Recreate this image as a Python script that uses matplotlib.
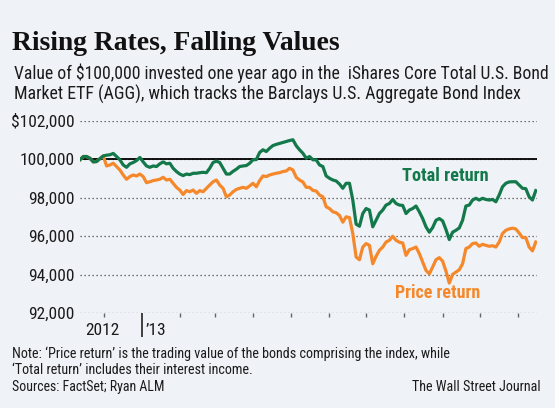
import numpy as np
import pandas as pd
import matplotlib
matplotlib.use("Agg")
import matplotlib.pyplot as plt
import matplotlib.dates as mdates
from matplotlib.ticker import FuncFormatter, FixedLocator, NullFormatter

start_date = "2012-11-12"
end_date = "2013-11-15"

total_return = [
    99970, 100140, 100140, 100050, 99860, 99880, 100030, 100170, 100210, 100230,
    100300, 100140, 99970, 99700, 99580, 99760, 99830, 99930, 100090, 99860,
    99650, 99580, 99650, 99620, 99760, 99860, 99760, 99790, 99530, 99360,
    99230, 99150, 99230, 99200, 99270, 99270, 99300, 99320, 99300, 99530,
    99830, 99900, 99830, 99530, 99230, 99230, 99370, 99480, 99620, 99650,
    99670, 99790, 99970, 99980, 100350, 100490, 100400, 100570, 100710, 100770,
    100820,
    100870, 100920, 100970, 101010, 100700, 100490, 100310, 100050, 100140, 99970,
    99970, 99700, 99620, 99130, 99010, 98920, 98870, 98710, 98490, 98750,
    98750, 97880, 96630, 96520, 97180, 97440, 97360, 96490, 96830, 97180,
    97360, 97620, 97700, 97910, 97700, 97620, 97600, 97180, 97360, 97440,
    97570, 97270, 96920, 96490, 96210, 96450, 96830, 96920, 96800, 96350,
    95830, 96210, 96310, 96430, 96830, 97570, 97620, 97880, 97970, 97880,
    97970, 97910, 97880, 97910, 97790, 98140, 98570, 98750, 98820, 98830,
    98830, 98660, 98490, 98470, 98050, 97880, 98370,
]

price_return = [
    99970, 100140, 100140, 100050, 99860, 99880, 100030, 100170, 99650, 99700,
    99790, 99620, 99440, 99180, 98960, 99100, 99180, 99130, 99230, 99100,
    98780, 98830, 98890, 98920, 98960, 99060, 98920, 98960, 98750, 98540,
    98400, 98170, 98370, 98310, 98400, 98230, 98370, 98310, 98490, 98660,
    98830, 98920, 98660, 98490, 98050, 98140, 98310, 98430, 98490, 98540,
    98490, 98610, 98750, 98570, 98890, 99130, 99100, 99180, 99230, 99270,
    99300,
    99360, 99390, 99530, 99440, 99060, 98920, 98820, 98540, 98540, 98380,
    98350, 98140, 98050, 97530, 97440, 97270, 97220, 97080, 96730, 97010,
    96970, 96140, 94920, 94780, 95440, 95620, 95530, 94570, 94960, 95270,
    95440, 95700, 95790, 96000, 95790, 95690, 95650, 95010, 95300, 95360,
    95440, 95100, 94660, 94230, 94050, 94400, 94780, 94890, 94710, 94190,
    93570, 94020, 94140, 94260, 94570, 95360, 95440, 95620, 95650, 95480,
    95580, 95530, 95480, 95510, 95440, 95700, 96140, 96310, 96380, 96420,
    96380, 96170, 95930, 95930, 95440, 95240, 95700,
]

y_ticks = [92000, 94000, 96000, 98000, 100000, 102000]
year_tick = "2013-01-01"

dates = pd.date_range(start_date, end_date, periods=len(total_return))

BG = "#eff2f7"
GREEN = "#13784a"
ORANGE = "#f5882a"
TXT = "#1b1b1b"
SANS = ["Roboto Condensed", "Roboto", "DejaVu Sans"]

fig = plt.figure(figsize=(5.55, 4.08), dpi=100, facecolor=BG)
ax = fig.add_axes([0.1441, 0.2321, 0.8235, 0.4721], facecolor=BG)
renderer = fig.canvas.get_renderer()


def fit(t, width_px):
    # scale the font so the text spans the same width as in the original
    w = t.get_window_extent(renderer).width
    t.set_fontsize(t.get_fontsize() * width_px / w)
    return t


ax.set_yticks(y_ticks)
ax.set_ylim(92000, 102000)
ax.set_xlim(dates[0], dates[-1] + pd.Timedelta(days=1))
ax.yaxis.grid(True, linestyle=(0, (1, 2.2)), color="#444444", lw=0.9)
ax.set_axisbelow(True)
ax.axhline(100000, color="black", lw=1.3, zorder=2)

ax.plot(dates, price_return, color=ORANGE, lw=2.3, solid_joinstyle="round", zorder=3)
ax.plot(dates, total_return, color=GREEN, lw=2.3, solid_joinstyle="round", zorder=4)

for s in ax.spines.values():
    s.set_visible(False)

ax.yaxis.set_major_formatter(FuncFormatter(
    lambda v, _: f"${v:,.0f}" if v == 102000 else f"{v:,.0f}"))
ax.tick_params(axis="y", length=0, pad=4, labelsize=12.5, labelcolor=TXT)
for lab in ax.get_yticklabels():
    lab.set_family(SANS)

ax.xaxis.set_minor_locator(mdates.MonthLocator())
ax.xaxis.set_major_locator(FixedLocator([mdates.date2num(pd.Timestamp(year_tick))]))
ax.xaxis.set_major_formatter(NullFormatter())
ax.tick_params(axis="x", which="minor", length=3, width=1, color="#666666", direction="out")
ax.tick_params(axis="x", which="major", length=17, width=1.2, color="#222222", direction="out")

xt = ax.get_xaxis_transform()
ax.text(pd.Timestamp("2012-11-30"), -0.115, "2012", transform=xt, ha="center",
        va="baseline", fontsize=12.5, color=TXT, family=SANS)
ax.text(pd.Timestamp("2013-01-04"), -0.115, "\u201913", transform=xt, ha="left",
        va="baseline", fontsize=12.5, color=TXT, family=SANS)

fit(ax.text(pd.Timestamp("2013-07-30"), 99130, "Total return", color=GREEN, fontsize=12.5,
            fontweight="bold", family=SANS, va="center"), 87)
fit(ax.text(pd.Timestamp("2013-07-24"), 93040, "Price return", color=ORANGE, fontsize=12.5,
            fontweight="bold", family=SANS, va="center"), 86)

fit(fig.text(12 / 555, 1 - 49.6 / 408, "Rising Rates, Falling Values", fontsize=18,
             fontweight="bold", family=["Liberation Serif", "DejaVu Serif"], color="#111111",
             va="baseline"), 329)
fit(fig.text(14 / 555, 1 - 78.6 / 408,
             "Value of $100,000 invested one year ago in the  iShares Core Total U.S. Bond",
             fontsize=12, family=SANS, color=TXT, va="baseline"), 531)
fit(fig.text(14 / 555, 1 - 100.2 / 408,
             "Market ETF (AGG), which tracks the Barclays U.S. Aggregate Bond Index",
             fontsize=12, family=SANS, color=TXT, va="baseline"), 504)

fit(fig.text(12 / 555, 1 - 357.8 / 408,
             "Note: \u2018Price return\u2019 is the trading value of the bonds comprising the index, while",
             fontsize=10.5, family=SANS, color=TXT, va="baseline"), 444)
fit(fig.text(12 / 555, 1 - 374.4 / 408,
             "\u2018Total return\u2019 includes their interest income.",
             fontsize=10.5, family=SANS, color=TXT, va="baseline"), 245)
fit(fig.text(12 / 555, 1 - 391.2 / 408, "Sources: FactSet; Ryan ALM",
             fontsize=10.5, family=SANS, color=TXT, va="baseline"), 155)
fit(fig.text(541 / 555, 1 - 390.7 / 408, "The Wall Street Journal",
             fontsize=10.5, family=SANS, color=TXT, va="baseline", ha="right"), 130)

fig.savefig("out.png", dpi=100, facecolor=BG)
